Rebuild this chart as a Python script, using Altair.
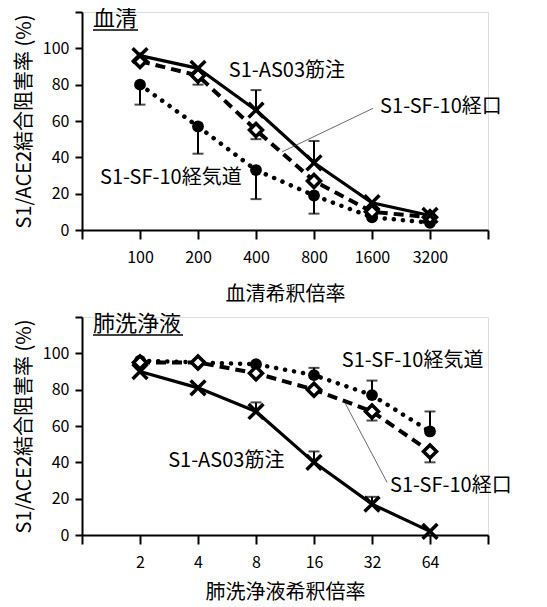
import altair as alt
import pandas as pd

FONT = "Noto Sans CJK JP"

series_names = ["S1-AS03筋注", "S1-SF-10経口", "S1-SF-10経気道"]

# Serum panel
serum_dil = [100, 200, 400, 800, 1600, 3200]
serum_as03 = [96, 89, 66, 37, 15, 8]
serum_as03_err = [None, None, 77, 49, None, None]
serum_oral = [93, 85, 55, 27, 10, 7]
serum_oral_err = [None, 80, 50, None, None, None]
serum_airway = [80, 57, 33, 19, 7, 4]
serum_airway_err = [69, 42, 17, 9, None, None]
serum_ticks = [50, 100, 200, 400, 800, 1600, 3200, 6400]

# Lung wash panel
balf_dil = [2, 4, 8, 16, 32, 64]
balf_as03 = [90, 81, 68, 40, 17, 2]
balf_as03_err = [None, None, 73, 46, 21, None]
balf_oral = [95, 95, 89, 80, 68, 46]
balf_oral_err = [None, None, None, None, 63, 40]
balf_airway = [96, 95, 94, 88, 77, 57]
balf_airway_err = [None, None, None, 92, 85, 68]
balf_ticks = [1, 2, 4, 8, 16, 32, 64, 128]

y_ticks = [0, 20, 40, 60, 80, 100, 120]

# Annotation labels (data coordinates)
serum_label_x = [289, 1763, 62]
serum_label_y = [87.5, 67.5, 28.5]
serum_label_order = ["S1-AS03筋注", "S1-SF-10経口", "S1-SF-10経気道"]
serum_leader = dict(x=[1620], y=[67], x2=[546], y2=[43])
balf_label_x = [22.3, 2.8, 39.7]
balf_label_y = [96, 40.7, 27]
balf_label_order = ["S1-SF-10経気道", "S1-AS03筋注", "S1-SF-10経口"]
balf_leader = dict(x=[38.3], y=[29], x2=[23.1], y2=[73])

W, H = 406, 218


def panel(dil, as03, as03_err, oral, oral_err, airway, airway_err, ticks,
          title, xtitle, lab_x, lab_y, lab_text, leader, x_title_pad):
    rows = []
    for name, vals, errs in zip(series_names, [as03, oral, airway],
                                [as03_err, oral_err, airway_err]):
        for d, v, e in zip(dil, vals, errs):
            rows.append({"dil": d, "val": v, "err": e, "series": name})
    df = pd.DataFrame(rows)
    lo, hi = ticks[0], ticks[-1]
    xscale = alt.Scale(type="log", base=2, domain=[lo, hi], nice=False)
    xaxis = alt.Axis(values=ticks, title=xtitle,
                     labelExpr=f"datum.value=={lo}||datum.value=={hi} ? '' : datum.value",
                     tickSize=9, tickWidth=2, domainWidth=2, domainColor="black",
                     tickColor="black", labelFontSize=16, labelColor="black",
                     labelFont=FONT, titleFont=FONT, titleFontSize=20,
                     titleFontWeight="normal", titleColor="black",
                     labelOverlap=False, labelPadding=10,
                     titlePadding=x_title_pad, grid=False)
    yscale = alt.Scale(domain=[0, 120], nice=False)
    yaxis = alt.Axis(values=y_ticks, title="S1/ACE2結合阻害率 (%)",
                     labelExpr="datum.value==120 ? '' : datum.value",
                     tickSize=7, tickWidth=2, domainWidth=2, domainColor="black",
                     tickColor="black", labelFontSize=16, labelColor="black",
                     labelFont=FONT, titleFont=FONT, titleFontSize=20,
                     titleFontWeight="normal", titleColor="black",
                     labelOverlap=False, labelPadding=6, titlePadding=8,
                     grid=False)

    def X(f):
        return alt.X(f, type="quantitative", scale=xscale, axis=xaxis)

    def Y(f):
        return alt.Y(f, type="quantitative", scale=yscale, axis=yaxis)

    base = alt.Chart(df).encode(x=X("dil"), y=Y("val"))

    def sel(n):
        return alt.datum.series == n

    line_air = base.transform_filter(sel(series_names[2])).mark_line(
        color="black", strokeWidth=4.5, strokeDash=[0.1, 9], strokeCap="round")
    line_oral = base.transform_filter(sel(series_names[1])).mark_line(
        color="black", strokeWidth=4, strokeDash=[10, 6])
    line_as03 = base.transform_filter(sel(series_names[0])).mark_line(
        color="black", strokeWidth=3.2)

    errdf = df.dropna(subset=["err"])
    err_rule = alt.Chart(errdf).mark_rule(color="black", strokeWidth=2).encode(
        x=X("dil"), y=Y("val"), y2="err:Q")
    err_cap = alt.Chart(errdf).mark_tick(color="black", size=11, thickness=2,
                                         orient="horizontal").encode(
        x=X("dil"), y=Y("err"))

    pt_air = base.transform_filter(sel(series_names[2])).mark_point(
        shape="circle", filled=True, color="black", size=140, opacity=1)
    pt_oral = base.transform_filter(sel(series_names[1])).mark_point(
        shape="diamond", filled=True, fill="white", stroke="black", strokeWidth=3.5,
        size=170, opacity=1)
    pt_as03 = base.transform_filter(sel(series_names[0])).mark_point(
        shape="M-1,-1L1,1M1,-1L-1,1", filled=False, color="black", strokeWidth=3.5,
        size=220, opacity=1)

    labdf = pd.DataFrame({"x": lab_x, "y": lab_y, "t": lab_text})
    labels = alt.Chart(labdf).mark_text(align="left", baseline="middle",
                                        fontSize=20, font=FONT, color="black").encode(
        x=X("x"), y=Y("y"), text="t:N")

    ldf = pd.DataFrame(leader)
    lead = alt.Chart(ldf).mark_rule(color="#444444", strokeWidth=0.8).encode(
        x=X("x"), y=Y("y"), x2="x2:Q", y2="y2:Q")

    tdf = pd.DataFrame({"t": [title]})
    ttl = alt.Chart(tdf).mark_text(align="left", baseline="middle", fontSize=22,
                                   font=FONT, color="black").encode(
        x=alt.value(11), y=alt.value(7), text="t:N")
    uline = alt.Chart(tdf).mark_rule(color="black", strokeWidth=1.3).encode(
        x=alt.value(11), x2=alt.value(11 + 22.5 * len(title)), y=alt.value(18))

    return alt.layer(line_air, line_oral, line_as03, err_rule, err_cap,
                     pt_air, pt_oral, pt_as03, lead, labels, ttl, uline).properties(
        width=W, height=H)


top = panel(serum_dil, serum_as03, serum_as03_err, serum_oral, serum_oral_err,
            serum_airway, serum_airway_err, serum_ticks, "血清", "血清希釈倍率",
            serum_label_x, serum_label_y, serum_label_order, serum_leader, 19)
bottom = panel(balf_dil, balf_as03, balf_as03_err, balf_oral, balf_oral_err,
               balf_airway, balf_airway_err, balf_ticks, "肺洗浄液", "肺洗浄液希釈倍率",
               balf_label_x, balf_label_y, balf_label_order, balf_leader, 12)

chart = alt.vconcat(top, bottom, spacing=3).configure_view(stroke=None).configure(
    padding={"left": 5, "top": -5, "right": 0, "bottom": 0}).configure_axis(
    labelOverlap=False)

chart.save("out.html", embed_options={"renderer": "svg", "actions": False})
